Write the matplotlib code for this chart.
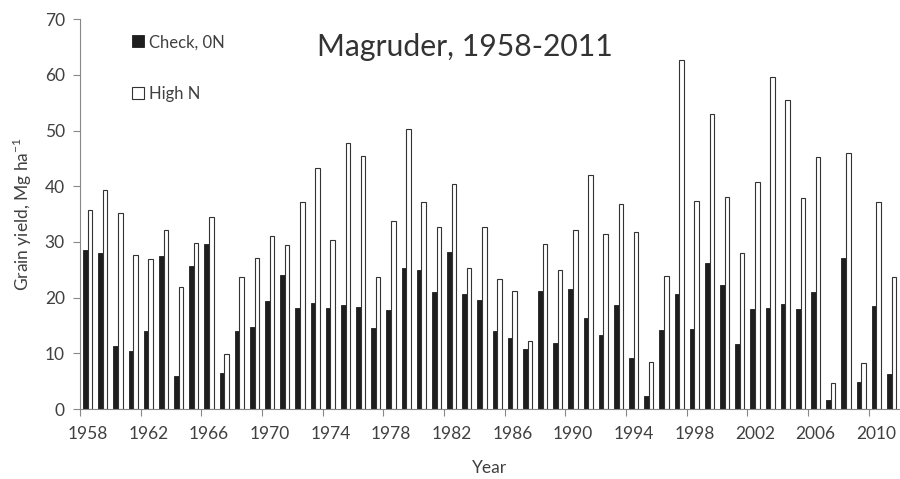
import numpy as np
import matplotlib
matplotlib.use('Agg')
import matplotlib.pyplot as plt

plt.rcParams['font.family'] = ['Lato', 'DejaVu Sans']

years = list(range(1958, 2012))
check_0n = [28.6, 28.0, 11.4, 10.4, 14.0, 27.4, 5.9, 25.6, 29.7, 6.5,
            14.0, 14.7, 19.4, 24.1, 18.1, 19.0, 18.1, 18.7, 18.3, 14.6,
            17.7, 25.3, 24.9, 21.0, 28.2, 20.7, 19.6, 14.0, 12.8, 10.7,
            21.2, 11.9, 21.6, 16.4, 13.3, 18.6, 9.2, 2.4, 14.2, 20.7,
            14.4, 26.2, 22.3, 11.6, 17.9, 18.1, 18.8, 17.9, 21.0, 1.7,
            27.1, 4.8, 18.5, 6.3]
high_n = [35.8, 39.4, 35.2, 27.6, 26.9, 32.2, 22.0, 29.8, 34.5, 9.8,
          23.7, 27.1, 31.0, 29.5, 37.1, 43.3, 30.4, 47.7, 45.4, 23.7,
          33.7, 50.3, 37.1, 32.6, 40.4, 25.4, 32.6, 23.4, 21.2, 12.3,
          29.6, 25.0, 32.2, 42.1, 31.5, 36.9, 31.7, 8.4, 23.9, 62.6,
          37.4, 52.9, 38.1, 28.0, 40.7, 59.6, 55.5, 37.9, 45.2, 4.7,
          45.9, 8.3, 37.1, 23.7]
yticks = list(range(0, 71, 10))

txt = '#404040'
axcol = '#888888'

fig = plt.figure(figsize=(9, 4.79), dpi=100)
ax = fig.add_axes([0.089, 0.146, 0.91, 0.814])

x = np.arange(len(years))
w = 0.3
ax.bar(x - w / 2, check_0n, w, color='#1e1e1e', edgecolor='#1e1e1e',
       linewidth=0.6, label='Check, 0N')
ax.bar(x + w / 2, high_n, w, color='white', edgecolor='#333333',
       linewidth=0.8, label='High N')

ax.set_xlim(-0.5, len(years) - 0.5)
ax.set_ylim(0, 70)

# category labels every 4 years, tick marks at the boundaries
ax.set_xticks(x[::4] - 0.5)
ax.set_xticklabels([])
ax.tick_params(axis='x', length=5, color=axcol)
for i in x[::4]:
    ax.text(i, -4.5, str(years[i]), ha='center', va='center',
            fontsize=12.5, color=txt)

ax.set_yticks(yticks)
ax.tick_params(axis='y', length=5, color=axcol, labelsize=12.5,
               labelcolor=txt, pad=6)

for s in ['top', 'right']:
    ax.spines[s].set_visible(False)
ax.spines['left'].set_color(axcol)
ax.spines['bottom'].set_color(axcol)

ax.set_xlabel('Year', fontsize=12.5, color=txt, labelpad=28)
ax.set_ylabel('Grain yield, Mg ha$^{\\mathregular{-1}}$', fontsize=12.5,
              color=txt, labelpad=8)
ax.text(0.47, 0.965, 'Magruder, 1958-2011', transform=ax.transAxes,
        ha='center', va='top', fontsize=21.7, color='#333333')

leg = ax.legend(loc='upper left', bbox_to_anchor=(0.045, 1.0), frameon=False,
                fontsize=12, labelspacing=2.15, handlelength=0.75,
                handleheight=0.75, handletextpad=0.3)
for t in leg.get_texts():
    t.set_color(txt)

fig.savefig('out.png', dpi=100)
